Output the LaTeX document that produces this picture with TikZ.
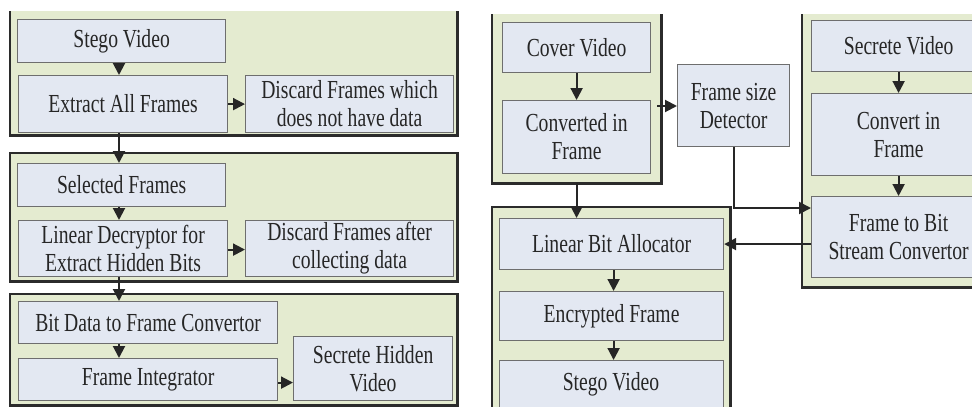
\documentclass[tikz,border=0pt]{standalone}
\usepackage{fontspec}
\setmainfont{Liberation Serif}[FakeStretch=0.755]
\usetikzlibrary{arrows.meta}
\definecolor{grpfill}{HTML}{E4EBD0}
\definecolor{boxfill}{HTML}{E3E8F2}
\definecolor{boxline}{HTML}{6E6E6E}
\definecolor{grpline}{HTML}{2B2B2B}
\begin{document}
\begin{tikzpicture}[x=1pt,y=-1pt,
  box/.style={draw=boxline, fill=boxfill, line width=1.2pt, inner sep=0pt, align=center,
    font=\fontsize{26}{28}\selectfont, text=black!85, anchor=north west},
  grp/.style={fill=grpfill, inner sep=0pt, anchor=north west},
  gline/.style={draw=grpline, line width=2.4pt},
  arr/.style={draw=black!85, line width=2pt, -{Triangle[length=12pt,width=12pt]}}]
\useasboundingbox (0,0) rectangle (972,407);
\clip (0,0) rectangle (972,407);
% groups
\node[grp, minimum width=447pt, minimum height=124pt] (g1) at (10,11) {};
\node[grp, minimum width=447pt, minimum height=128pt] (g2) at (10,153) {};
\node[grp, minimum width=447pt, minimum height=111pt] (g3) at (10,294) {};
\node[grp, minimum width=169pt, minimum height=169pt] (gA) at (492,14) {};
\node[grp, minimum width=190pt, minimum height=273pt] (gB) at (802,14) {};
\node[grp, minimum width=238pt, minimum height=215pt] (gC) at (492,207) {};
\draw[gline] (g1.north west) -- (g1.south west) -- (g1.south east) -- (g1.north east);
\draw[gline] (g2.north west) rectangle (g2.south east);
\draw[gline] (g3.north west) rectangle (g3.south east);
\draw[gline] (gA.north west) -- (gA.south west) -- (gA.south east) -- (gA.north east);
\draw[gline] (gB.north west) -- (gB.south west) -- (gB.south east) -- (gB.north east);
\draw[gline] (gC.south west) -- (gC.north west) -- (gC.north east) -- (gC.south east);
% left boxes
\node[box, minimum width=208pt, minimum height=43pt] (sv1) at (17,19) {Stego Video};
\node[box, minimum width=209pt, minimum height=57pt] (eaf) at (18,75) {Extract All Frames};
\node[box, minimum width=208pt, minimum height=57pt] (dfw) at (245,75) {Discard Frames which\\does not have data};
\node[box, minimum width=208pt, minimum height=43pt] (sf) at (17,163) {Selected Frames};
\node[box, minimum width=209pt, minimum height=56pt] (ld) at (18,220) {Linear Decryptor for\\Extract Hidden Bits};
\node[box, minimum width=208pt, minimum height=56pt] (dfa) at (245,220) {Discard Frames after\\collecting data};
\node[box, minimum width=259pt, minimum height=42pt] (bd) at (18,301) {Bit Data to Frame Convertor};
\node[box, minimum width=259pt, minimum height=42pt] (fi) at (18,358) {Frame Integrator};
\node[box, minimum width=159pt, minimum height=64pt] (shv) at (293,336) {Secrete Hidden\\Video};
% right boxes
\node[box, minimum width=148pt, minimum height=50pt] (cv) at (502,22) {Cover Video};
\node[box, minimum width=148pt, minimum height=73pt] (cif) at (502,100) {Converted in\\Frame};
\node[box, minimum width=112pt, minimum height=82pt] (fsd) at (677,64) {Frame size\\Detector};
\node[box, minimum width=174pt, minimum height=51pt] (sev) at (811,20) {Secrete Video};
\node[box, minimum width=174pt, minimum height=82pt] (cvf) at (811,93) {Convert in\\Frame};
\node[box, minimum width=174pt, minimum height=81pt] (ftb) at (811,196) {Frame to Bit\\Stream Convertor};
\node[box, minimum width=224pt, minimum height=51pt] (lba) at (499,218) {Linear Bit Allocator};
\node[box, minimum width=224pt, minimum height=49pt] (ef) at (499,291) {Encrypted Frame};
\node[box, minimum width=224pt, minimum height=90pt] (sv2) at (499,360) {};
\node[font=\fontsize{26}{28}\selectfont, text=black!85, inner sep=0pt] (sv2t) at (611,384) {Stego Video};
% left arrows
\draw[arr] ([xshift=102pt]sv1.south west) -- ([xshift=101pt]eaf.north west);
\draw[arr] (eaf.east) -- (dfw.west);
\draw[arr] ([xshift=101pt]eaf.south west) -- ([xshift=102pt]sf.north west);
\draw[arr] ([xshift=102pt]sf.south west) -- ([xshift=101pt]ld.north west);
\draw[arr] ([yshift=-1pt]ld.east) -- ([yshift=-1pt]dfa.west);
\draw[arr] ([xshift=101pt]ld.south west) -- ([xshift=101pt]bd.north west);
\draw[arr] ([xshift=101pt]bd.south west) -- ([xshift=101pt]fi.north west);
\draw[arr] ([yshift=-3pt]fi.east) -- ([yshift=-3pt]fi.east -| shv.west);
% right arrows
\draw[arr] (cv.south) -- (cif.north);
\draw[arr] ([xshift=6pt,yshift=-6pt]cif.north east) -- ([yshift=-6pt]cif.north east -| fsd.west);
\draw[arr] (gA.south -| cv.south) -- (lba.north -| cv.south);
\draw[arr] (fsd.south) |- ([yshift=-12pt]ftb.north west);
\draw[arr] (sev.south) -- (cvf.north);
\draw[arr] (cvf.south) -- (ftb.north);
\draw[arr] (ftb.west |- lba.east) -- (lba.east);
\draw[arr] ([xshift=2pt]lba.south) -- ([xshift=2pt]ef.north);
\draw[arr] ([xshift=2pt]ef.south) -- ([xshift=2pt]sv2.north);
\end{tikzpicture}
\end{document}
